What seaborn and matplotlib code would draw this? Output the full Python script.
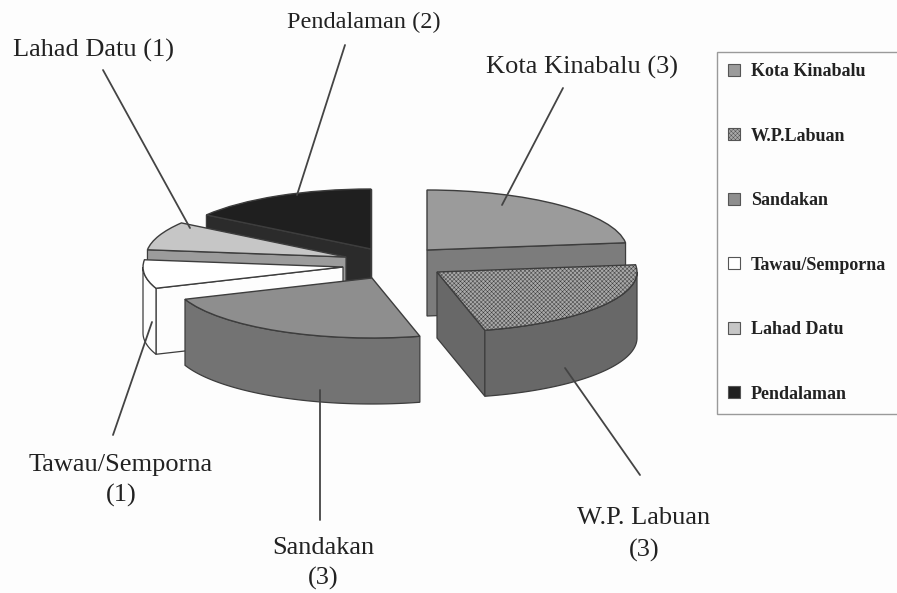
import numpy as np
import matplotlib
matplotlib.use("Agg")
import matplotlib.pyplot as plt
from matplotlib.lines import Line2D
from matplotlib.patches import Patch
import seaborn as sns

# data
categories = ["Kota Kinabalu", "W.P.Labuan", "Sandakan", "Tawau/Semporna", "Lahad Datu", "Pendalaman"]
counts = [3, 3, 3, 1, 1, 2]

# styles
top_colors = ["#9b9b9b", "#a9a9a9", "#8e8e8e", "#ffffff", "#c6c6c6", "#1f1f1f"]
side_colors = ["#7c7c7c", "#686868", "#737373", "#fdfdfd", "#9c9c9c", "#2b2b2b"]
hatches = [None, "xxxxxxxx", None, None, None, None]

# layout, in reference pixels
W, H = 897, 593
SQUASH = 0.30
RADIUS = 200
DEPTH = 66
APEX = [(427, 250), (437, 272), (372, 278), (343, 267), (346, 257), (371, 249)]
DRAW_ORDER = [5, 4, 0, 3, 2, 1]
LABELS = [
    ("Pendalaman (2)", 364, 22, 17.5),
    ("Lahad Datu (1)", 93, 50, 19),
    ("Kota Kinabalu (3)", 582, 67, 19),
    ("Tawau/Semporna", 121, 465, 19),
    ("(1)", 121, 495, 19),
    ("Sandakan", 323, 548, 19),
    ("(3)", 323, 578, 19),
    ("W.P. Labuan", 644, 518, 19),
    ("(3)", 644, 550, 19),
]
LEADERS = [
    ((345, 45), (297, 195)),
    ((103, 70), (190, 228)),
    ((563, 88), (502, 205)),
    ((113, 435), (152, 322)),
    ((320, 520), (320, 390)),
    ((640, 475), (565, 368)),
]

sns.set_theme(style="white", rc={"hatch.linewidth": 0.35})
plt.rcParams["font.family"] = ["Liberation Serif", "DejaVu Serif"]
palette = sns.color_palette(top_colors)

PAPER = "#fdfdfd"
fig = plt.figure(figsize=(W / 100, H / 100), dpi=100, facecolor=PAPER)
ax = fig.add_axes([0, 0, 1, 1])

wedges, _ = ax.pie(counts, colors=palette, startangle=90, counterclock=False, radius=RADIUS,
                   wedgeprops={"edgecolor": "#3d3d3d", "linewidth": 1.0})
ax.set_aspect("auto")
ax.set_xlim(0, W)
ax.set_ylim(-H / SQUASH, 0)
ax.axis("off")


def to_data(px, py):
    return px, -py / SQUASH


def front_walls(wedge, depth):
    """Polygons of the faces of one slice that look towards the viewer."""
    cx, cy = wedge.center
    t1, t2 = wedge.theta1, wedge.theta2
    r = wedge.r
    walls = []

    def edge(theta):
        a = np.radians(theta)
        return [(cx, cy), (cx + r * np.cos(a), cy + r * np.sin(a))]

    for theta, normal in ((t1, t1 - 90), (t2, t2 + 90)):
        if np.sin(np.radians(normal)) < 0:
            walls.append(edge(theta))
    angles = np.linspace(t1, t2, 240)
    visible = angles[np.sin(np.radians(angles)) < 0]
    if visible.size > 1:
        a = np.radians(visible)
        walls.append(list(zip(cx + r * np.cos(a), cy + r * np.sin(a))))
    polys = []
    for pts in walls:
        pts = np.array(pts)
        low = pts[::-1] - [0, depth]
        polys.append(np.vstack([pts, low]))
    return polys


depth_data = DEPTH / SQUASH
for z, i in enumerate(DRAW_ORDER):
    wedge = wedges[i]
    wedge.set_center(to_data(*APEX[i]))
    wedge.set_zorder(10 + 2 * z + 1)
    if hatches[i]:
        wedge.set_hatch(hatches[i])
    for poly in front_walls(wedge, depth_data):
        ax.fill(poly[:, 0], poly[:, 1], facecolor=side_colors[i], edgecolor="#3d3d3d",
                linewidth=0.9, zorder=10 + 2 * z)

for text, x, y, size in LABELS:
    fig.text(x / W, 1 - y / H, text, ha="center", va="center", fontsize=size, color="#222222")

for (x0, y0), (x1, y1) in LEADERS:
    fig.add_artist(Line2D([x0 / W, x1 / W], [1 - y0 / H, 1 - y1 / H], color="#444444", lw=1.3,
                          transform=fig.transFigure, zorder=40))

handles = [Patch(facecolor=palette[i], edgecolor="#555555", linewidth=0.8, hatch=hatches[i])
           for i in range(len(categories))]
legend = fig.legend(handles, categories, loc="upper left", bbox_to_anchor=(717 / W, 1 - 52 / H),
                    borderaxespad=0, frameon=True, fancybox=False, edgecolor="#9a9a9a",
                    facecolor=PAPER, framealpha=1, labelspacing=2.63,
                    handlelength=0.67, handleheight=0.67, handletextpad=0.6,
                    borderpad=0.62, labelcolor="#222222",
                    prop={"family": "Liberation Serif", "weight": "bold", "size": 13})
legend.get_frame().set_linewidth(1.0)

fig.savefig("out.png", dpi=100, facecolor=PAPER)
